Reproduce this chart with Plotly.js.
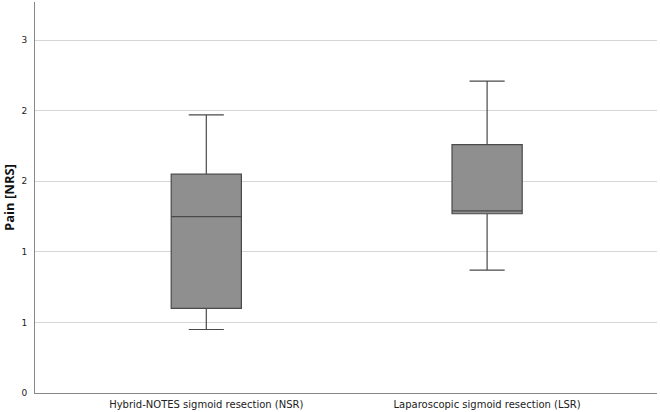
<!DOCTYPE html>
<html>
<head>
<meta charset="utf-8">
<script src="https://cdn.plot.ly/plotly-3.0.1.min.js"></script>
<style>html,body{margin:0;padding:0;background:#fff;}#chart{width:660px;height:412px;}</style>
</head>
<body>
<div id="chart"></div>
<script>
const categories = ["Hybrid-NOTES sigmoid resection (NSR)", "Laparoscopic sigmoid resection (LSR)"];
const lowerFence = [0.45, 0.87];
const q1 = [0.60, 1.27];
const median = [1.25, 1.29];
const q3 = [1.55, 1.76];
const upperFence = [1.97, 2.21];
const tickValues = [0, 0.5, 1, 1.5, 2, 2.5];
const tickLabels = ["0", "1", "1", "2", "2", "3"];

const trace = {
  type: "box",
  x: categories,
  q1: q1,
  median: median,
  q3: q3,
  lowerfence: lowerFence,
  upperfence: upperFence,
  fillcolor: "#8f8f8f",
  line: {color: "#4a4a4a", width: 1.2},
  width: 0.25,
  whiskerwidth: 0.5,
  boxpoints: false,
  hoverinfo: "skip"
};

const layout = {
  width: 660, height: 412,
  margin: {l: 35, r: 3, t: 2, b: 19},
  paper_bgcolor: "#fff",
  plot_bgcolor: "#fff",
  showlegend: false,
  font: {family: "DejaVu Sans, sans-serif", color: "#222"},
  xaxis: {
    type: "category",
    range: [-0.61, 1.605],
    showgrid: false,
    zeroline: false,
    showline: true,
    linecolor: "#888",
    linewidth: 1,
    ticks: "",
    tickfont: {size: 10, color: "#222"},
    ticklabelstandoff: 2
  },
  yaxis: {
    range: [0, 2.77],
    tickvals: tickValues,
    ticktext: tickLabels,
    showgrid: true,
    gridcolor: "#d6d6d6",
    gridwidth: 1,
    zeroline: false,
    showline: true,
    linecolor: "#888",
    linewidth: 1,
    ticks: "",
    tickfont: {size: 9, color: "#222"},
    ticklabelstandoff: 5,
    automargin: false,
    title: {text: "<b>Pain [NRS]</b>", font: {family: "Open Sans, sans-serif", size: 13, color: "#111"}, standoff: 3}
  }
};

Plotly.newPlot("chart", [trace], layout, {displayModeBar: false, staticPlot: true});
</script>
</body>
</html>
